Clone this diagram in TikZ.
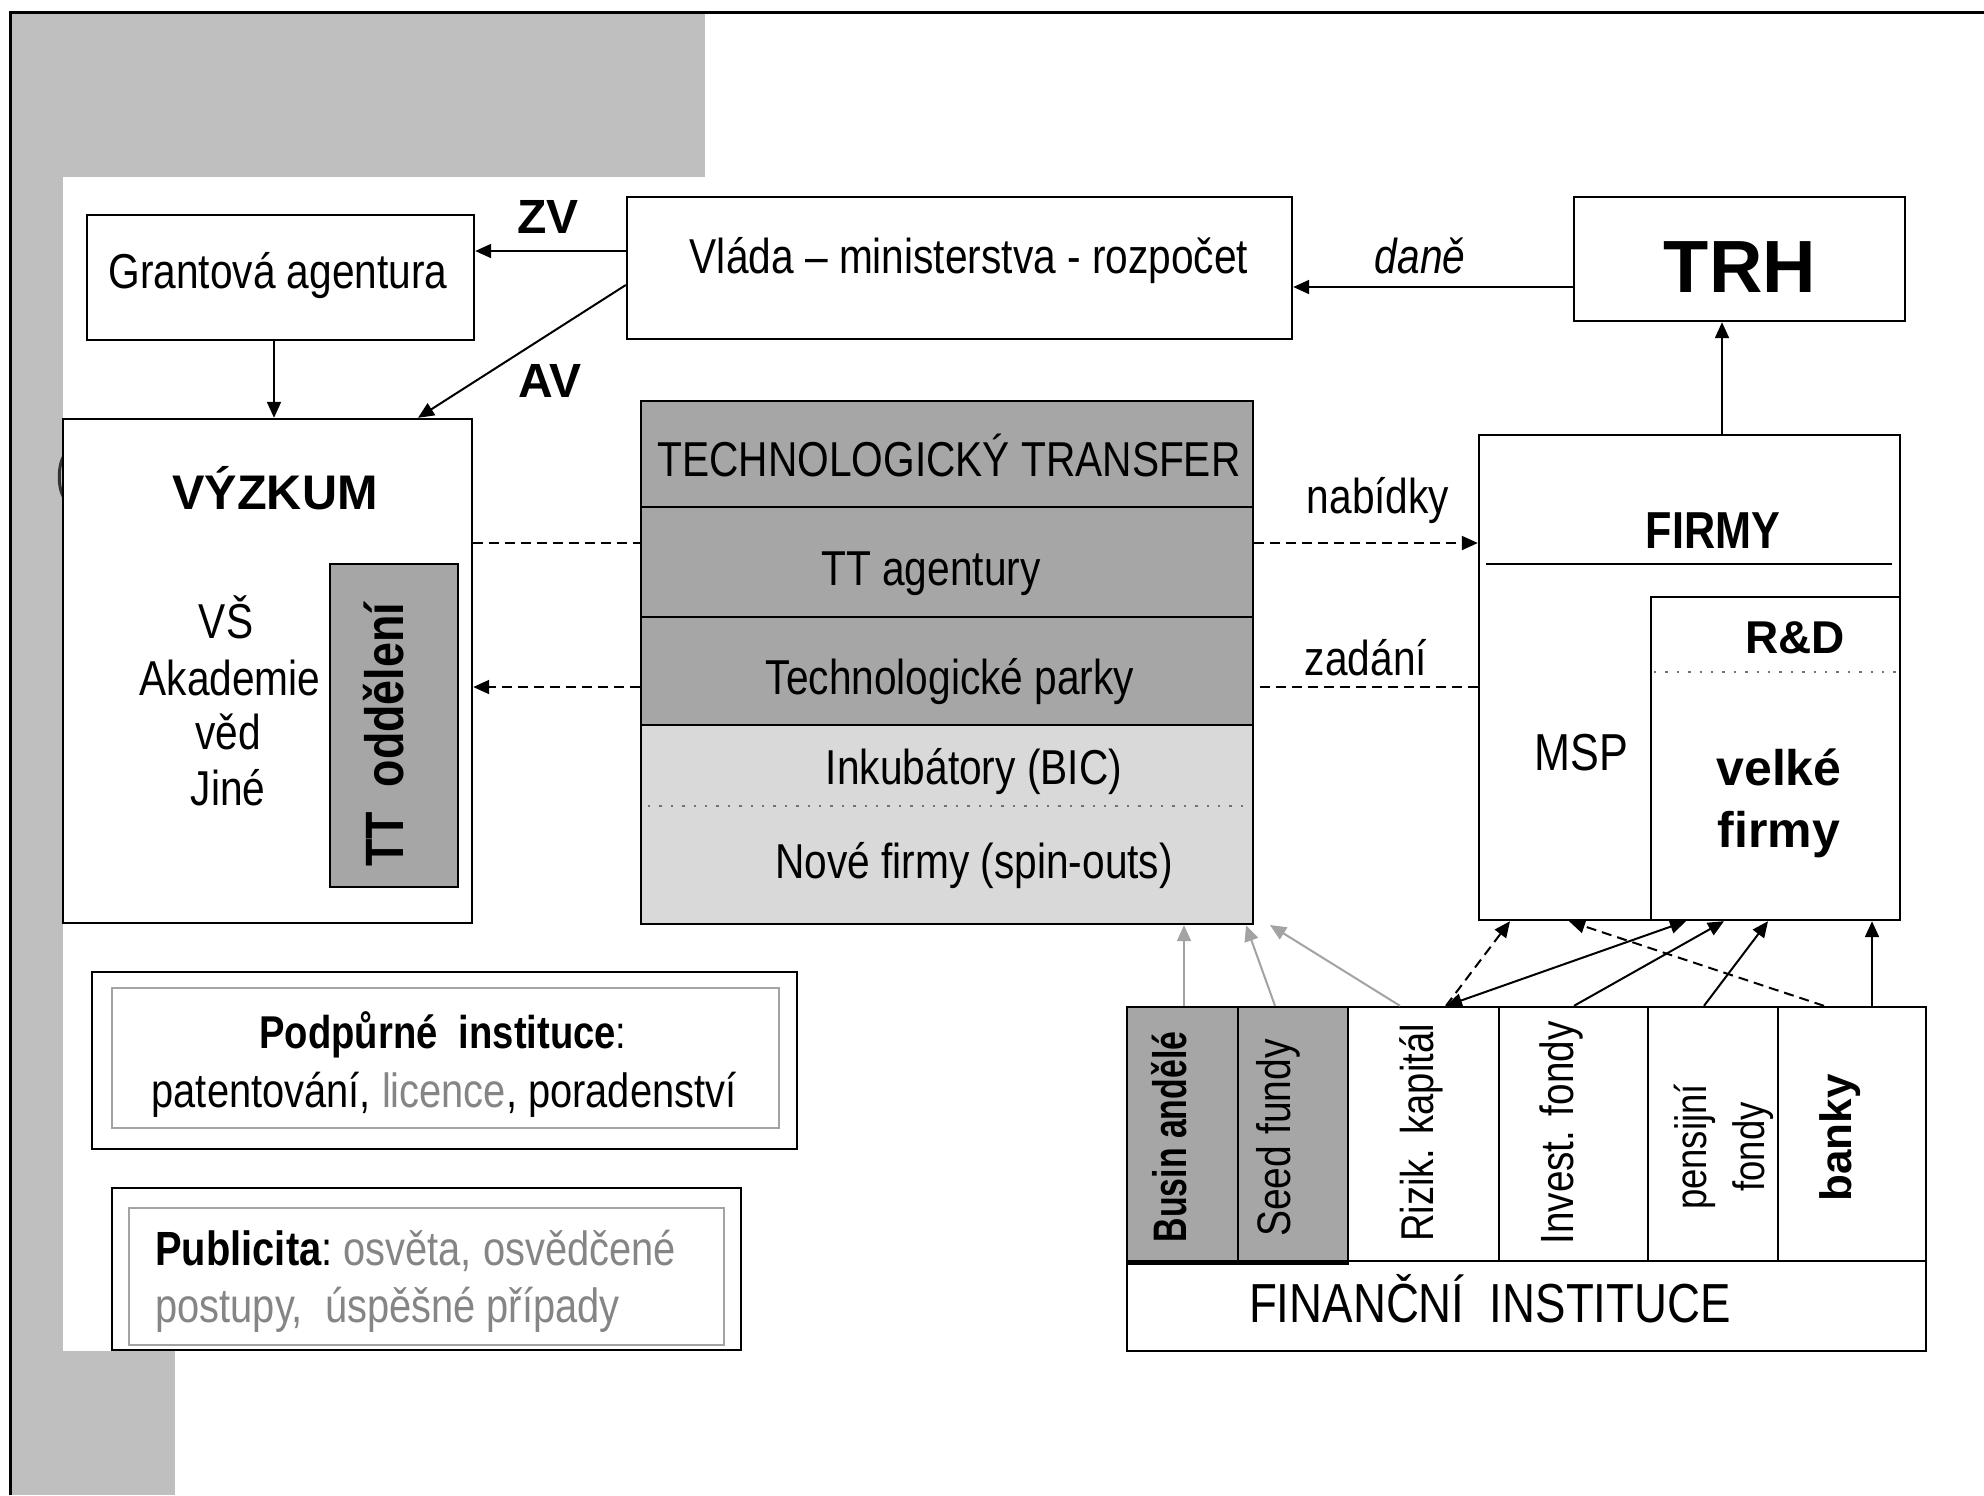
\documentclass[tikz,border=0pt]{standalone}
\usepackage{fontspec}
\setmainfont{Liberation Sans}
\newfontfamily\nar[FakeStretch=0.83]{Liberation Sans}
\newfontfamily\xnar[FakeStretch=0.72]{Liberation Sans}
\usetikzlibrary{arrows.meta,fit}
\definecolor{bggray}{HTML}{BFBFBF}
\definecolor{dkfill}{HTML}{A6A6A6}
\definecolor{ltfill}{HTML}{D9D9D9}
\definecolor{txtgray}{HTML}{858585}
\definecolor{arrgray}{HTML}{A3A3A3}
\newcommand\fpx[2]{\fontsize{#1}{#2}\selectfont}
\begin{document}
\begin{tikzpicture}[x=0.5pt,y=-0.5pt,
  >={Triangle[length=8pt,width=7pt]},
  box/.style={draw, line width=1.2pt, inner sep=0pt, fill=white},
  ibox/.style={draw=arrgray, line width=1pt, inner sep=0pt},
  lbl/.style={inner sep=0pt, anchor=base},
  rlbl/.style={inner sep=0pt, rotate=90},
  con/.style={line width=1pt, ->},
  dln/.style={line width=1pt, dash pattern=on 5pt off 3pt},
  dcon/.style={dln, ->},
  gcon/.style={line width=1pt, draw=arrgray, ->, >={Triangle[length=8pt,width=7pt]}},
  dotl/.style={line width=1.2pt, black!55, dash pattern=on 1.2pt off 4.5pt},
  stdf/.style={font=\nar\fpx{24.5}{28}}
]
\useasboundingbox (0,0) rectangle (1984,1495);
\fill[white] (0,0) rectangle (1984,1495);
% slide background
\fill[bggray] (10,12) rectangle (705,177);
\fill[bggray] (10,12) rectangle (63,1495);
\fill[bggray] (10,1351) rectangle (175,1495);
\draw[line width=1.5pt] (10,1495) -- (10,12) -- (1984,12);
\draw[line width=1.5pt, black!80] (66,453) .. controls (57,462) and (57,492) .. (66,500);

% boxes
\node[box, fit={(87,215) (474,340)}] (grant) {};
\node[box, fit={(627,197) (1292,339)}] (vlada) {};
\node[box, fit={(1574,197) (1905,321)}] (trh) {};
\node[box, fit={(63,419) (472,923)}] (vyzkum) {};
\node[box, fill=dkfill, fit={(330,564) (458,887)}] (ttodd) {};
\node[box, fill=dkfill, fit={(641,401) (1253,507)}] (ttA) {};
\node[box, fill=dkfill, fit={(641,507) (1253,617)}] (ttB) {};
\node[box, fill=dkfill, fit={(641,617) (1253,725)}] (ttC) {};
\node[box, fill=ltfill, fit={(641,725) (1253,924)}] (ttD) {};
\draw[dotl] (648,806) -- (1250,806);
\node[box, fit={(1479,435) (1900,920)}] (firmy) {};
\draw[line width=1.2pt] (1486,564) -- (1892,564);
\node[box, fit={(1651,597) (1900,920)}] (rd) {};
\draw[dotl] (1654,672) -- (1898,672);
\node[box, fit={(1127,1007) (1926,1351)}] (fin) {};
\node[box, fit={(1127,1261) (1926,1351)}] (finrow) {};
\node[box, fill=dkfill, fit={(1127,1007) (1238,1261)}] (c1) {};
\node[box, fill=dkfill, fit={(1238,1007) (1348,1261)}] (c2) {};
\node[box, fit={(1348,1007) (1499,1261)}] (c3) {};
\node[box, fit={(1499,1007) (1648,1261)}] (c4) {};
\node[box, fit={(1648,1007) (1778,1261)}] (c5) {};
\node[box, fit={(1778,1007) (1926,1261)}] (c6) {};
\draw[line width=2.5pt] (c1.south west) -- (c2.south east);
\node[box, fit={(92,972) (797,1149)}] (podp) {};
\node[ibox, fit={(112,988) (779,1128)}] (podpi) {};
\node[box, fit={(112,1188) (741,1350)}] (publ) {};
\node[ibox, fit={(129,1208) (724,1345)}] (publi) {};

% helper coordinates
\coordinate (y251) at (0,251);
\coordinate (y285) at (0,285);
\coordinate (y287) at (0,287);
\coordinate (y543) at (0,543);
\coordinate (y687) at (0,687);
\coordinate (x274) at (274,0);
\coordinate (x418) at (418,0);
\coordinate (x1722) at (1722,0);
\coordinate (x1184) at (1184,0);
\coordinate (x1246) at (1246,0);
\coordinate (x1275) at (1275,0);
\coordinate (x1400) at (1400,0);
\coordinate (x1446) at (1446,0);
\coordinate (x1510) at (1510,0);
\coordinate (x1686) at (1686,0);
\coordinate (x1574) at (1574,0);
\coordinate (x1724) at (1724,0);
\coordinate (x1704) at (1704,0);
\coordinate (x1768) at (1768,0);
\coordinate (x1824) at (1824,0);
\coordinate (x1569) at (1569,0);
\coordinate (x1872) at (1872,0);
\coordinate (gtip) at (1270,925);

% connectors
\draw[con] (vlada.west |- y251) -- (grant.east |- y251);
\draw[con] (vlada.west |- y285) -- (vyzkum.north -| x418);
\draw[con] (grant.south -| x274) -- (vyzkum.north -| x274);
\draw[con] (trh.west |- y287) -- (vlada.east |- y287);
\draw[con] (firmy.north -| x1722) -- (trh.south -| x1722);
\draw[dln] (vyzkum.east |- y543) -- (ttB.west |- y543);
\draw[dcon] (ttB.east |- y543) -- (firmy.west |- y543);
\draw[dcon] (ttC.west |- y687) -- (vyzkum.east |- y687);
\draw[dln] (firmy.west |- y687) -- (ttC.east |- y687);
\draw[gcon] (c1.north -| x1184) -- (ttD.south -| x1184);
\draw[gcon] (c2.north -| x1275) -- (ttD.south -| x1246);
\draw[gcon] (c3.north -| x1400) -- (gtip);
\draw[dcon] (c3.north -| x1446) -- (firmy.south -| x1510);
\draw[con, <->] (c3.north -| x1446) -- (firmy.south -| x1686);
\draw[con] (c4.north -| x1574) -- (firmy.south -| x1724);
\draw[con] (c5.north -| x1704) -- (firmy.south -| x1768);
\draw[dcon] (c6.north -| x1824) -- (firmy.south -| x1569);
\draw[con] (c6.north -| x1872) -- (firmy.south -| x1872);

% labels
\node[lbl, font=\bfseries\fpx{24}{28}] (tzv) at (548,233) {ZV};
\node[lbl, font=\bfseries\fpx{24}{28}] (tav) at (550,397) {AV};
\node[lbl, stdf] (tgrant) at (278,288) {Grantová agentura};
\node[lbl, stdf] (tvlada) at (969,273) {Vláda – ministerstva - rozpočet};
\node[lbl, font=\nar\itshape\fpx{24.5}{28}] (tdane) at (1420,273) {daně};
\node[lbl, font=\bfseries\fpx{37}{40}] (ttrh) at (1740,292) {TRH};
\node[lbl, font=\bfseries\fpx{24.3}{28}] (tvyz) at (275,509) {VÝZKUM};
\node[lbl, stdf] (tvs) at (226,638) {VŠ};
\node[lbl, stdf] (takad) at (230,695) {Akademie};
\node[lbl, stdf] (tved) at (228,749) {věd};
\node[lbl, stdf] (tjine) at (228,805) {Jiné};
\node[rlbl, font=\nar\bfseries\fpx{27}{30}] (ttodtxt) at (384,735) {TT\ \ oddělení};
\node[lbl, stdf] (tttA) at (949,476) {TECHNOLOGICKÝ TRANSFER};
\node[lbl, stdf] (tttB) at (931,585) {TT agentury};
\node[lbl, stdf] (tttC) at (950,694) {Technologické parky};
\node[lbl, stdf] (tink) at (974,784) {Inkubátory (BIC)};
\node[lbl, stdf] (tnove) at (974,878) {Nové firmy (spin-outs)};
\node[lbl, stdf] (tnab) at (1378,513) {nabídky};
\node[lbl, stdf] (tzad) at (1366,675) {zadání};
\node[lbl, font=\nar\bfseries\fpx{26}{30}] (tfirmy) at (1713,548) {FIRMY};
\node[lbl, font=\bfseries\fpx{23}{27}] (trd) at (1795,653) {R\&D};
\node[lbl, font=\nar\fpx{26}{30}] (tmsp) at (1581,770) {MSP};
\node[lbl, font=\bfseries\fpx{25}{31}] (tvelke) at (1779,785) {velké};
\node[lbl, font=\bfseries\fpx{25}{31}] (tvfirmy) at (1779,847) {firmy};
\node[rlbl, font=\xnar\bfseries\fpx{23.5}{27}] (tbusin) at (1169,1137) {Busin andělé};
\node[rlbl, font=\nar\fpx{23.5}{27}] (tseed) at (1278,1138) {Seed fundy};
\node[rlbl, font=\nar\fpx{23}{27}] (trizik) at (1421,1133) {Rizik. kapitál};
\node[rlbl, font=\nar\fpx{23.3}{27}] (tinvest) at (1561,1133) {Invest. fondy};
\node[rlbl, font=\nar\fpx{22}{29}, align=center] (tpens) at (1724,1147) {pensijní\\fondy};
\node[rlbl, font=\bfseries\fpx{22}{26}] (tbanky) at (1840,1138) {banky};
\node[lbl, font=\nar\fpx{27.5}{32}] (tfin) at (1490,1322) {FINANČNÍ\ \ INSTITUCE};
\node[lbl, font=\nar\fpx{23}{27}] (tpodp1) at (443,1048) {{\bfseries Podpůrné\ \ instituce}:};
\node[lbl, font=\nar\fpx{24}{28}] (tpodp2) at (444,1107) {patentování, {\color{txtgray}licence}, poradenství};
\node[lbl, anchor=base west, font=\nar\fpx{24}{28}] (tpubl1) at (155,1265) {{\bfseries Publicita}:\ {\color{txtgray}osvěta, osvědčené}};
\node[lbl, anchor=base west, font=\nar\fpx{24}{28}, text=txtgray] (tpubl2) at (155,1322) {postupy,\ \ úspěšné případy};
\end{tikzpicture}
\end{document}
